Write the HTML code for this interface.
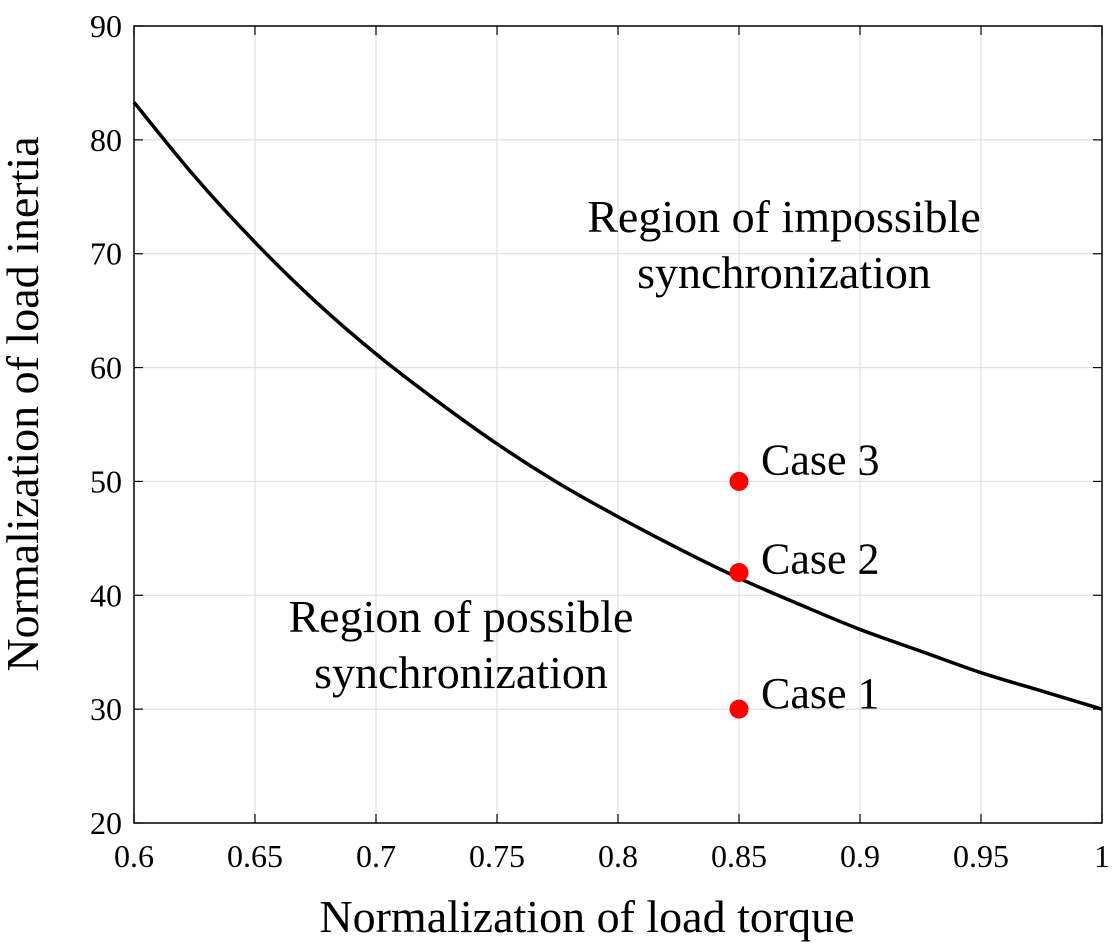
<!DOCTYPE html>
<html><head><meta charset="utf-8"><style>
html,body{margin:0;padding:0;background:#fff;}
svg{display:block;font-family:"Liberation Serif",serif;}
</style></head><body>
<svg id="chart" width="1120" height="947" viewBox="0 0 1120 947" xmlns="http://www.w3.org/2000/svg">
<g id="grid"></g>
<g id="ticks"></g>
<path id="curve" fill="none" stroke="#000" stroke-width="3.5"/>
<g id="points"></g>
<rect x="134" y="26" width="968" height="797" fill="none" stroke="#000" stroke-width="1.5"/>
<text x="784" y="232" font-size="46" text-anchor="middle">Region of impossible</text>
<text x="784" y="288" font-size="46" text-anchor="middle">synchronization</text>
<text x="461" y="632" font-size="46" text-anchor="middle">Region of possible</text>
<text x="461" y="688" font-size="46" text-anchor="middle">synchronization</text>
<text x="587" y="932" font-size="46" text-anchor="middle">Normalization of load torque</text>
<text transform="translate(38,404) rotate(-90)" font-size="46" text-anchor="middle">Normalization of load inertia</text>
</svg>
<script>
const xTicks=[0.6,0.65,0.7,0.75,0.8,0.85,0.9,0.95,1];
const xTickLabels=["0.6","0.65","0.7","0.75","0.8","0.85","0.9","0.95","1"];
const yTicks=[20,30,40,50,60,70,80,90];
const yTickLabels=["20","30","40","50","60","70","80","90"];
const curveX=[0.6,0.625,0.65,0.675,0.7,0.725,0.75,0.775,0.8,0.825,0.85,0.875,0.9,0.925,0.95,0.975,1];
const curveY=[83.3,76.8,71.0,65.8,61.2,57.1,53.3,49.9,46.9,44.1,41.5,39.2,37.0,35.1,33.2,31.6,30.0];
const caseX=[0.85,0.85,0.85];
const caseY=[30,42,50];
const caseLabels=["Case 1","Case 2","Case 3"];
const X0=134,X1=1102,Y0=823,Y1=26;
const sx=v=>X0+(v-0.6)/(1-0.6)*(X1-X0);
const sy=v=>Y0-(v-20)/(90-20)*(Y0-Y1);
const NS="http://www.w3.org/2000/svg";
const grid=document.getElementById('grid'),ticks=document.getElementById('ticks');
function mk(tag,attrs,parent){const e=document.createElementNS(NS,tag);for(const k in attrs)e.setAttribute(k,attrs[k]);parent.appendChild(e);return e;}
xTicks.forEach((t,i)=>{const x=sx(t);
 const g=mk('line',{x1:x,x2:x,y1:Y1,y2:Y0,stroke:'#d9d9d9','stroke-width':1},grid);
 
 
 const tk=mk('line',{x1:x,x2:x,y1:Y0,y2:Y0-9,stroke:'#000','stroke-width':1.2},ticks);
 
 
 const tk2=mk('line',{x1:x,x2:x,y1:Y1,y2:Y1+9,stroke:'#000','stroke-width':1.2},ticks);
 
 
 const lb=mk('text',{x:x,y:867,'font-size':32,'text-anchor':'middle'},ticks);lb.textContent=xTickLabels[i];
 
 
});
yTicks.forEach((t,i)=>{const y=sy(t);
 const g=mk('line',{x1:X0,x2:X1,y1:y,y2:y,stroke:'#d9d9d9','stroke-width':1},grid);
 
 
 const tk=mk('line',{x1:X0,x2:X0+9,y1:y,y2:y,stroke:'#000','stroke-width':1.2},ticks);
 
 
 const tk2=mk('line',{x1:X1,x2:X1-9,y1:y,y2:y,stroke:'#000','stroke-width':1.2},ticks);
 
 
 const lb=mk('text',{x:122,y:y+11,'font-size':32,'text-anchor':'end'},ticks);lb.textContent=yTickLabels[i];
 
 
});
const P=curveX.map((v,i)=>[sx(v),sy(curveY[i])]);
let d='M'+P[0][0]+','+P[0][1];
for(let i=0;i<P.length-1;i++){const p0=P[Math.max(0,i-1)],p1=P[i],p2=P[i+1],p3=P[Math.min(P.length-1,i+2)];
 d+=' C'+(p1[0]+(p2[0]-p0[0])/6)+','+(p1[1]+(p2[1]-p0[1])/6)+' '+(p2[0]-(p3[0]-p1[0])/6)+','+(p2[1]-(p3[1]-p1[1])/6)+' '+p2[0]+','+p2[1];}
document.getElementById('curve').setAttribute('d',d);
const pts=document.getElementById('points');
const labelDy=[-1,1,-7];
caseX.forEach((v,i)=>{
 const c=mk('circle',{cx:sx(v),cy:sy(caseY[i]),r:9.5,fill:'#ff0000'},pts);
 
 
 const t=mk('text',{x:sx(v)+22,y:sy(caseY[i])+labelDy[i],'font-size':44},pts);t.textContent=caseLabels[i];
 
 
});
</script>
</body></html>
